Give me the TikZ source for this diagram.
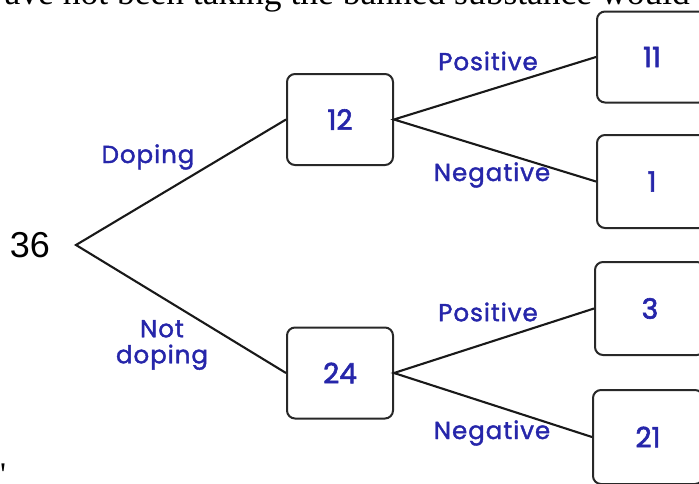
\documentclass[tikz,border=0pt]{standalone}
\usepackage{fontspec}
\setmainfont{Liberation Serif}
\newfontfamily\handfont[FakeBold=1.6,LetterSpace=4]{Poppins}
\newfontfamily\numfont[FakeBold=2.2]{Poppins}
\newfontfamily\arialfont{Liberation Sans}
\definecolor{inkblue}{RGB}{38,38,170}
\definecolor{boxline}{RGB}{40,40,40}
\tikzset{
  numbox/.style={draw=boxline, line width=2pt, rounded corners=8pt, fill=white,
    minimum width=110pt, minimum height=91pt, inner sep=0pt,
    font=\numfont\fontsize{28}{28}\selectfont, text=inkblue},
  lbl/.style={font=\handfont\fontsize{24.5}{26}\selectfont, text=inkblue, inner sep=0pt, align=center},
  branch/.style={line width=2.1pt, draw=black!90}
}
\begin{document}
\begin{tikzpicture}[x=1pt,y=-1pt]
\useasboundingbox (0,0) rectangle (699,483);
\clip (0,0) rectangle (699,483);
% cut-off text at the top
\node[anchor=base east, inner sep=0pt, font=\fontsize{35.5}{35.5}\selectfont] (toptext) at (690,4) {ave not been taking the banned substance would};
\node[anchor=base west, inner sep=0pt, font=\fontsize{33}{33}\selectfont] (quote) at (0,485) {\textquotesingle};
% root
\node[font=\arialfont\fontsize{36}{36}\selectfont, inner sep=0pt] (root) at (30,245) {36};
\coordinate (apex) at (76,245);
% boxes
\node[numbox, minimum width=106pt] (b12) at (340,119.5) {12};
\node[numbox, minimum width=106pt] (b24) at (340,373) {24};
\node[numbox] (b11) at (652,57) {11};
\node[numbox, minimum height=93pt] (b1) at (652,181.5) {1};
\node[numbox, minimum height=93pt] (b3) at (650,308.5) {3};
\node[numbox, minimum height=94pt] (b21) at (648,437) {21};
% branches
\draw[branch] (b12.west) -- (apex) -- (b24.west);
\draw[branch] (b11.west) -- (b12.east) -- (b1.west);
\draw[branch] (b3.west) -- (b24.east) -- (b21.west);
% labels
\node[lbl] (ldop) at (148,157) {Doping};
\node[lbl] (lnot) at (162,345) {Not\\doping};
\node[lbl] (lp1) at (488,61) {Positive};
\node[lbl] (ln1) at (492,175) {Negative};
\node[lbl] (lp2) at (488,312) {Positive};
\node[lbl] (ln2) at (492,433) {Negative};
\end{tikzpicture}
\end{document}
